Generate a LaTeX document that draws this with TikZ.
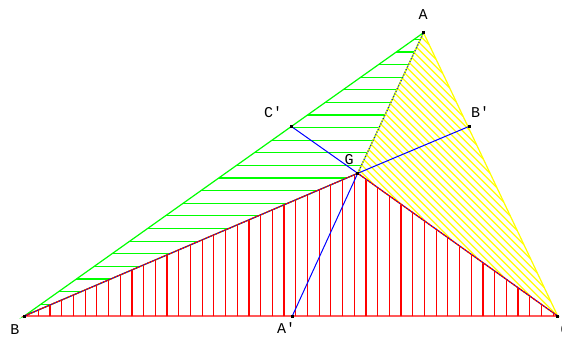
\documentclass[tikz,border=0pt]{standalone}
\usepackage{fontspec}
\newfontfamily\labfont{Liberation Mono}
\definecolor{hgreen}{RGB}{0,255,0}
\definecolor{hyellow}{RGB}{255,255,0}
\definecolor{hred}{RGB}{255,0,0}
\definecolor{hblue}{RGB}{0,0,255}
\tikzset{
  lab/.style={inner sep=0pt, font=\labfont\fontsize{15}{15}\selectfont, text=black},
  hatch/.style={line width=1.2pt},
  edge/.style={line width=1.2pt},
  cev/.style={hblue, line width=1pt},
  cevdot/.style={hblue, line width=1pt, dash pattern=on 1pt off 2pt},
  vdot/.style={fill=black, inner sep=0pt, minimum size=3pt, shape=rectangle}
}
\begin{document}
\begin{tikzpicture}[x=1pt,y=-1pt]
\useasboundingbox (0,0) rectangle (562,339);
\coordinate (A) at (423.5,32.7);
\coordinate (B) at (24.3,316);
\coordinate (C) at (557.7,316);
\coordinate (G) at (357.7,173.3);
\coordinate (Ap) at (292.3,316);
\coordinate (Bp) at (469.3,126.3);
\coordinate (Cp) at (291.7,126.7);
% green hatching (A B G)
\begin{scope}
  \clip (A) -- (B) -- (G) -- cycle;
  \foreach \k in {-13,...,10}
    \draw[hatch, hgreen] (0,190.7+12.6*\k) -- (562,190.7+12.6*\k);
\end{scope}
% yellow hatching (A G C)
\begin{scope}
  \clip (A) -- (G) -- (C) -- cycle;
  \foreach \k in {-13,...,17}
    \draw[hatch, hyellow] (271.7+7.5*\k,0) -- (271.7+7.5*\k+340,340);
\end{scope}
% red hatching (B G C)
\begin{scope}
  \clip (B) -- (G) -- (C) -- cycle;
  \foreach \k in {0,...,45}
    \draw[hatch, hred] (38.3+11.7*\k,0) -- (38.3+11.7*\k,339);
\end{scope}
% triangle outlines
\draw[edge, hgreen] (A) -- (B) -- (G) -- cycle;
\draw[edge, hyellow] (A) -- (G) -- (C) -- cycle;
\draw[edge, hred] (B) -- (G) -- (C) -- cycle;
% cevians
\draw[cev] (G) -- (Ap);
\draw[cev] (G) -- (Bp);
\draw[cev] (G) -- (Cp);
\draw[cevdot] (G) -- (A);
\draw[cevdot] (G) -- (B);
\draw[cevdot] (G) -- (C);
% vertex dots
\foreach \p in {A,B,C,G,Ap,Bp,Cp}
  \node[vdot] (d\p) at (\p) {};
% labels
\node[lab] (lA) at (423,15) {A};
\node[lab] (lB) at (15,330) {B};
\node[lab] (lC) at (565,330) {C};
\node[lab] (lG) at (349,160) {G};
\node[lab] (lAp) at (286,328) {A'};
\node[lab] (lBp) at (480,112) {B'};
\node[lab] (lCp) at (273,112) {C'};
\end{tikzpicture}
\end{document}
